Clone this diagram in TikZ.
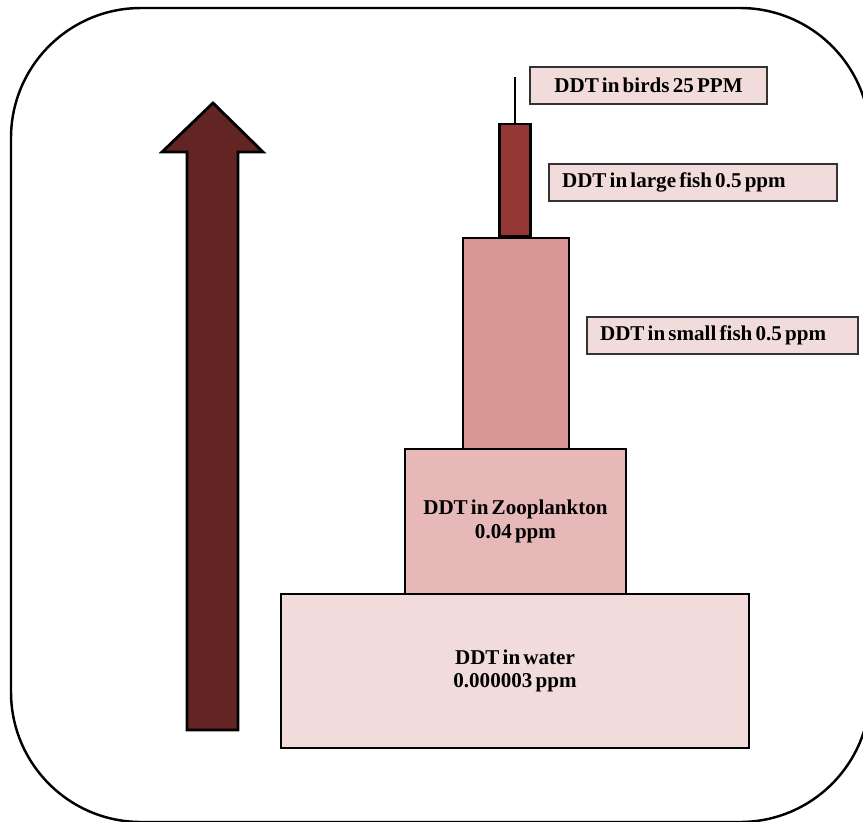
\documentclass[tikz,border=0pt]{standalone}
\usepackage{fontspec}
\setmainfont{Liberation Serif}[WordSpace=0.6]
\usepackage{xcolor}
\usetikzlibrary{calc,positioning}
\definecolor{waterpink}{HTML}{F2DCDB}
\definecolor{zoopink}{HTML}{E6B9B8}
\definecolor{smallred}{HTML}{D99694}
\definecolor{largered}{HTML}{953735}
\definecolor{arrowbrown}{HTML}{632523}
\tikzset{
	tier/.style={draw,line width=1.6pt,align=center,inner sep=0pt,
		font=\bfseries\fontsize{12}{13.5}\selectfont},
	tag/.style={draw=black!80,line width=0.9pt,fill=waterpink,minimum height=0.74cm,
		inner xsep=0.26cm,inner ysep=0pt,
		font=\bfseries\fontsize{12}{14}\selectfont},
}

\begin{document}
\begin{tikzpicture}[x=0.02cm,y=-0.02cm]
				\useasboundingbox (0,0) rectangle (863,822);
				\draw[line width=1.4pt,rounded corners=2.6cm] (11,8) rectangle (870,822);
				% rising arrow
				\draw[line width=1.6pt,fill=arrowbrown] (187,730) -- (187,152) -- (162,152) -- (213,103)
					-- (263,152) -- (238,152) -- (238,730) -- cycle;
				% pyramid
				\node[tier,fill=waterpink,minimum width=9.36cm,minimum height=3.08cm] (water) at (515,671) {DDT in water\\0.000003 ppm};
				\node[tier,fill=zoopink,minimum width=4.42cm,minimum height=2.9cm] (zoo) at (515.5,521.5) {DDT in Zooplankton\\0.04 ppm};
				\node[tier,fill=smallred,minimum width=2.12cm,minimum height=4.22cm] (small) at (516,343.5) {};
				\node[tier,fill=largered,minimum width=0.62cm,minimum height=2.24cm] (large) at (515,180) {};
				\coordinate (birdtop) at (515,77);
				\draw[line width=1.6pt] (large.north) -- (birdtop);
				% tags
				\node[tag] (birdtag) at (648.5,85.5) {\makebox[4.22cm][c]{DDT in birds 25 PPM}};
				\node[tag] (largetag) at (693,182.5) {\makebox[5.24cm][l]{DDT in large fish 0.5 ppm}};
				\node[tag] (smalltag) at (722.5,335.5) {\makebox[4.90cm][l]{DDT in small fish 0.5 ppm}};
			\end{tikzpicture}
\end{document}
